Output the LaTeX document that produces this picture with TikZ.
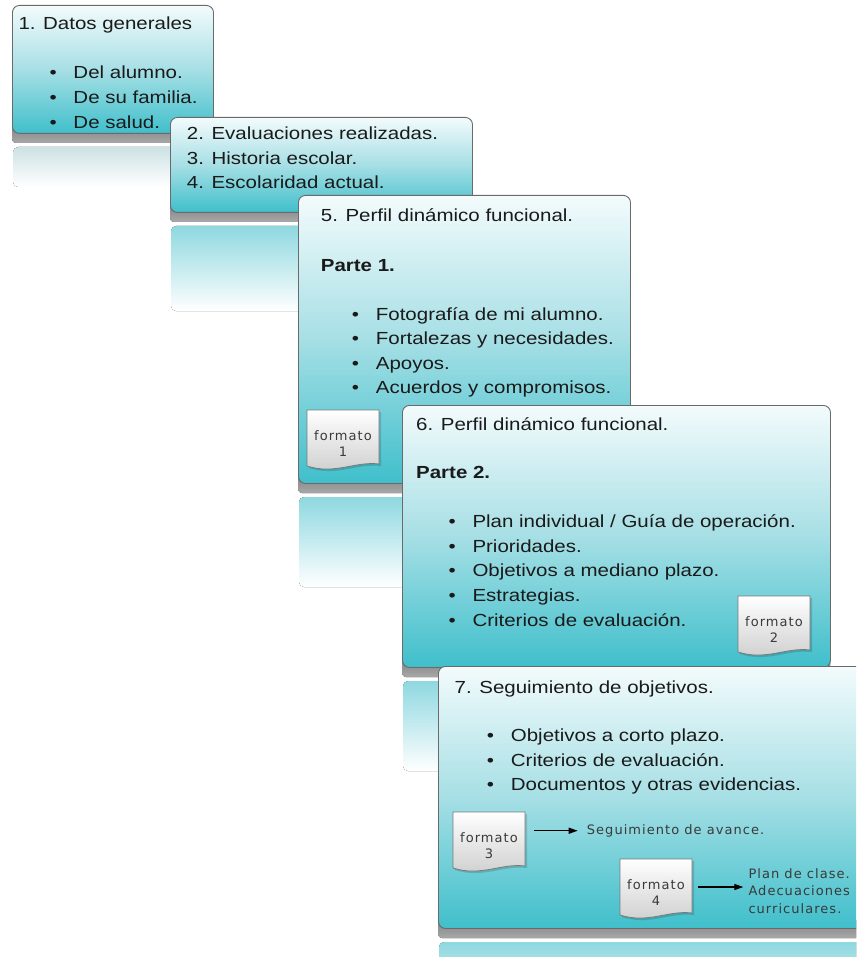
\documentclass[tikz,border=0pt]{standalone}
\usepackage{fontspec}
\setmainfont{Liberation Sans}[FakeStretch=1.17]
\newfontfamily\smallf{DejaVu Sans}[LetterSpace=8]
\usetikzlibrary{arrows.meta}
\definecolor{boxtop}{HTML}{F3FBFC}
\definecolor{boxmid}{HTML}{A6DFE5}
\definecolor{boxbot}{HTML}{3FBFCB}
\definecolor{boxline}{HTML}{6A6A6A}
\definecolor{bandtop}{HTML}{828282}
\definecolor{bandbot}{HTML}{A8A8A8}
\definecolor{reflc}{HTML}{8ED8E0}
\definecolor{reflfaint}{HTML}{CCE2E4}
\definecolor{textc}{HTML}{1A1A1A}
\definecolor{smallc}{HTML}{3A3A3A}
\definecolor{iconline}{HTML}{7A7A7A}
\definecolor{icongray}{HTML}{CDCDCD}
\newcommand\bl{\makebox[24pt][l]{•}}
\newcommand\panel[7]{% name L T R B reflcolour refllength
  \fill[top color=#6, bottom color=white, rounded corners=5pt] (#2+1,#5+14) rectangle (#4,#5+14+#7);
  \fill[top color=bandtop, bottom color=bandbot, rounded corners=4pt] (#2,#5-8) rectangle (#4,#5+10);
  \node[panelbox, minimum width={(#4-#2)*1pt}, minimum height={(#5-#3)*1pt}] (#1) at (#2,#3) {};
}
\newcommand\docicon[4]{% name L T number
  \fill[black, opacity=0.15] (#2+2,#3+2) -- (#2+74,#3+2) -- (#2+74,#3+56) .. controls (#2+50,#3+53) and (#2+30,#3+67) .. (#2+2,#3+58) -- cycle;
  \path[draw=iconline, line width=0.8pt, top color=white, bottom color=icongray] (#2,#3) -- (#2+72,#3) -- (#2+72,#3+54) .. controls (#2+48,#3+51) and (#2+28,#3+65) .. (#2,#3+56) -- cycle;
  \node[doc] (#1) at (#2+36,#3+28) {\rule{0pt}{21pt}formato\\#4};
}
\begin{document}
\begin{tikzpicture}[x=1pt,y=-1pt,
  panelbox/.style={draw=boxline, line width=0.9pt, rounded corners=7pt,
    top color=boxtop, bottom color=boxbot, middle color=boxmid,
    anchor=north west, inner sep=0pt},
  txt/.style={anchor=base west, inner sep=0pt, text=textc, font=\fontsize{17.5}{21}\selectfont},
  btxt/.style={txt, font=\fontsize{17.5}{21}\selectfont\bfseries},
  smalltxt/.style={inner sep=0pt, text=smallc, font=\smallf\fontsize{13}{17.7}\selectfont},
  doc/.style={minimum width=72pt, minimum height=56pt, inner sep=0pt, align=center,
    text=smallc, font=\smallf\fontsize{13}{16.7}\selectfont},
  arr/.style={-{Triangle[length=9pt,width=6pt]}, line width=1.3pt, black}]
\useasboundingbox (0,0) rectangle (856,957);
\clip (0,0) rectangle (856,957);

% panel 1
\panel{p1}{12}{5}{213}{133}{reflfaint}{40}
\node[txt] (t1) at (18.3,29.3) {1. Datos generales};
\node[txt] (t1a) at (49.3,78.3) {\bl Del alumno.};
\node[txt] (t1b) at (49.3,103.3) {\bl De su familia.};
\node[txt] (t1c) at (49.3,128.3) {\bl De salud.};

% panel 2
\panel{p2}{170}{117}{472}{212}{reflc}{85}
\node[txt] (t2a) at (186.7,139.3) {2. Evaluaciones realizadas.};
\node[txt] (t2b) at (186.7,164.3) {3. Historia escolar.};
\node[txt] (t2c) at (186.7,188.3) {4. Escolaridad actual.};

% panel 3
\panel{p3}{298}{195}{630}{483}{reflc}{90}
\node[txt] (t3) at (320.7,221.7) {5. Perfil dinámico funcional.};
\node[btxt] (t3p) at (320.7,271.7) {Parte 1.};
\node[txt] (t3a) at (351.7,320) {\bl Fotografía de mi alumno.};
\node[txt] (t3b) at (351.7,344.5) {\bl Fortalezas y necesidades.};
\node[txt] (t3c) at (351.7,369) {\bl Apoyos.};
\node[txt] (t3d) at (351.7,393.3) {\bl Acuerdos y compromisos.};
\docicon{f1}{307}{410}{1}

% panel 4
\panel{p4}{402}{405}{830}{667}{reflc}{90}
\node[txt] (t4) at (416,430) {6. Perfil dinámico funcional.};
\node[btxt] (t4p) at (416,478.3) {Parte 2.};
\node[txt] (t4a) at (448.3,527.3) {\bl Plan individual / Guía de operación.};
\node[txt] (t4b) at (448.3,552) {\bl Prioridades.};
\node[txt] (t4c) at (448.3,576.7) {\bl Objetivos a mediano plazo.};
\node[txt] (t4d) at (448.3,601) {\bl Estrategias.};
\node[txt] (t4e) at (448.3,626) {\bl Criterios de evaluación.};
\docicon{f2}{738}{596}{2}

% panel 5
\panel{p5}{438}{666}{872}{928}{reflc}{90}
\node[txt] (t5) at (454.5,693.3) {7. Seguimiento de objetivos.};
\node[txt] (t5a) at (486.7,741.7) {\bl Objetivos a corto plazo.};
\node[txt] (t5b) at (486.7,766) {\bl Criterios de evaluación.};
\node[txt] (t5c) at (486.7,790) {\bl Documentos y otras evidencias.};
\docicon{f3}{453}{812}{3}
\docicon{f4}{620}{859}{4}

\node[smalltxt, anchor=base west] (seg) at (586.7,834.3) {Seguimiento de avance.};
\node[smalltxt, anchor=west, align=left] (pc) at (748.3,891) {Plan de clase.\\Adecuaciones\\curriculares.};
\draw[arr, shorten <=9pt, shorten >=9pt] (f3.east |- seg.west) -- (seg.west);
\draw[arr, shorten <=6pt, shorten >=5pt] (f4.east) -- (f4.east -| pc.west);
\end{tikzpicture}
\end{document}
